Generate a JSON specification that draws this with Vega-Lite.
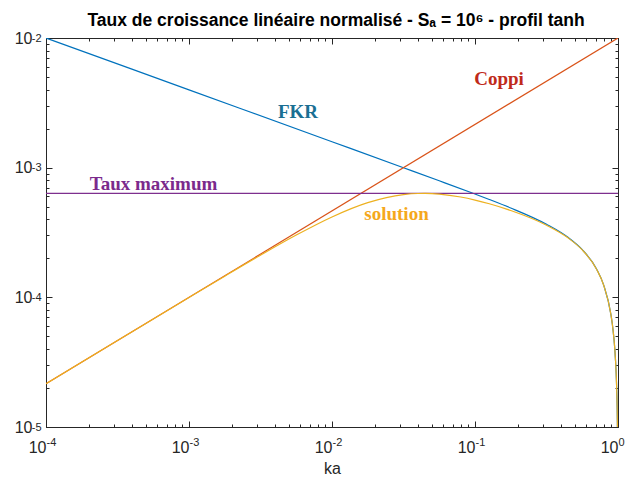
{
  "$schema": "https://vega.github.io/schema/vega-lite/v6.json",
  "width": 572,
  "height": 389,
  "autosize": {"type": "none"},
  "padding": {"left": 46, "top": 38, "right": 15, "bottom": 54},
  "background": "white",
  "config": {
    "view": {"stroke": "#262626", "strokeWidth": 1},
    "axis": {
      "domainColor": "#262626", "tickColor": "#262626", "labelColor": "#262626", "titleColor": "#262626",
      "labelFont": "Liberation Sans", "labelFontSize": 16, "titleFont": "Liberation Sans", "titleFontSize": 16,
      "titleFontWeight": "normal", "grid": false, "labelFlush": false, "labelOverlap": false, "labelBound": false,
      "domainWidth": 1, "tickWidth": 1
    }
  },
  "title": {
    "text": "Taux de croissance linéaire normalisé - Sₐ = 10⁶ - profil tanh",
    "font": "Liberation Sans", "fontSize": 17.5, "fontWeight": "bold", "color": "#000000",
    "anchor": "middle", "frame": "group", "offset": 1, "dx": 4
  },
  "datasets": {
    "courbes": [
      {"ka": 0.0001, "taux": 0.01, "serie": "FKR"},
      {"ka": 0.001, "taux": 0.003981, "serie": "FKR"},
      {"ka": 0.01, "taux": 0.001585, "serie": "FKR"},
      {"ka": 0.031623, "taux": 0.0009992, "serie": "FKR"},
      {"ka": 0.056234, "taux": 0.0007922, "serie": "FKR"},
      {"ka": 0.1, "taux": 0.0006259, "serie": "FKR"},
      {"ka": 0.12589, "taux": 0.0005682, "serie": "FKR"},
      {"ka": 0.17783, "taux": 0.0004886, "serie": "FKR"},
      {"ka": 0.31623, "taux": 0.0003659, "serie": "FKR"},
      {"ka": 0.44668, "taux": 0.0002902, "serie": "FKR"},
      {"ka": 0.56234, "taux": 0.0002332, "serie": "FKR"},
      {"ka": 0.70795, "taux": 0.0001653, "serie": "FKR"},
      {"ka": 0.79433, "taux": 0.0001241, "serie": "FKR"},
      {"ka": 0.89125, "taux": 0.0000742, "serie": "FKR"},
      {"ka": 0.92, "taux": 0.000058, "serie": "FKR"},
      {"ka": 0.95, "taux": 0.0000398, "serie": "FKR"},
      {"ka": 0.97, "taux": 0.00002646, "serie": "FKR"},
      {"ka": 0.98, "taux": 0.00001912, "serie": "FKR"},
      {"ka": 0.99, "taux": 0.00001098, "serie": "FKR"},
      {"ka": 0.995, "taux": 0.00000631, "serie": "FKR"},
      {"ka": 0.998, "taux": 0.00000303, "serie": "FKR"},
      {"ka": 0.0001, "taux": 0.00002154, "serie": "Coppi"},
      {"ka": 1, "taux": 0.01, "serie": "Coppi"},
      {"ka": 0.0001, "taux": 0.000633, "serie": "max"},
      {"ka": 1, "taux": 0.000633, "serie": "max"},
      {"ka": 0.0001, "taux": 0.00002154, "serie": "solution"},
      {"ka": 0.00031623, "taux": 0.00004638, "serie": "solution"},
      {"ka": 0.001, "taux": 0.00009967, "serie": "solution"},
      {"ka": 0.0017783, "taux": 0.0001456, "serie": "solution"},
      {"ka": 0.0031623, "taux": 0.0002113, "serie": "solution"},
      {"ka": 0.0056234, "taux": 0.000302, "serie": "solution"},
      {"ka": 0.01, "taux": 0.0004169, "serie": "solution"},
      {"ka": 0.017783, "taux": 0.0005374, "serie": "solution"},
      {"ka": 0.031623, "taux": 0.0006198, "serie": "solution"},
      {"ka": 0.039811, "taux": 0.000632, "serie": "solution"},
      {"ka": 0.044668, "taux": 0.000633, "serie": "solution"},
      {"ka": 0.050119, "taux": 0.0006308, "serie": "solution"},
      {"ka": 0.056234, "taux": 0.0006255, "serie": "solution"},
      {"ka": 0.079433, "taux": 0.0005938, "serie": "solution"},
      {"ka": 0.1, "taux": 0.0005627, "serie": "solution"},
      {"ka": 0.12589, "taux": 0.0005266, "serie": "solution"},
      {"ka": 0.17783, "taux": 0.0004672, "serie": "solution"},
      {"ka": 0.31623, "taux": 0.0003597, "serie": "solution"},
      {"ka": 0.44668, "taux": 0.0002876, "serie": "solution"},
      {"ka": 0.56234, "taux": 0.000232, "serie": "solution"},
      {"ka": 0.70795, "taux": 0.0001649, "serie": "solution"},
      {"ka": 0.79433, "taux": 0.0001239, "serie": "solution"},
      {"ka": 0.89125, "taux": 0.00007418, "serie": "solution"},
      {"ka": 0.92, "taux": 0.00005798, "serie": "solution"},
      {"ka": 0.95, "taux": 0.00003979, "serie": "solution"},
      {"ka": 0.97, "taux": 0.00002645, "serie": "solution"},
      {"ka": 0.98, "taux": 0.00001911, "serie": "solution"},
      {"ka": 0.99, "taux": 0.00001098, "serie": "solution"},
      {"ka": 0.995, "taux": 0.00000631, "serie": "solution"},
      {"ka": 0.998, "taux": 0.00000303, "serie": "solution"}
    ],
    "etiquettes": [
      {"ka": 0.005784, "taux": 0.002416, "texte": "FKR"},
      {"ka": 0.1472, "taux": 0.00434, "texte": "Coppi"},
      {"ka": 0.0005645, "taux": 0.0006785, "texte": "Taux maximum"},
      {"ka": 0.02825, "taux": 0.0003948, "texte": "solution"}
    ]
  },
  "layer": [
    {
      "data": {"name": "courbes"},
      "transform": [{"filter": "datum.serie == 'FKR'"}],
      "mark": {"type": "line", "color": "#0072BD", "strokeWidth": 1.2, "clip": true, "interpolate": "monotone"},
      "encoding": {
        "x": {"field": "ka", "type": "quantitative", "scale": {"type": "log", "domain": [0.0001, 1], "nice": false},
          "axis": {
            "orient": "bottom",
            "values": [0.0001,0.0002,0.0003,0.0004,0.0005,0.0006,0.0007,0.0008,0.0009,0.001,0.002,0.003,0.004,0.005,0.006,0.007,0.008,0.009,0.01,0.02,0.03,0.04,0.05,0.06,0.07,0.08,0.09,0.1,0.2,0.3,0.4,0.5,0.6,0.7,0.8,0.9,1],
            "tickSize": {"condition": {"test": "abs(log(datum.value)/LN10 - round(log(datum.value)/LN10)) < 0.001", "value": -6}, "value": -3},
            "labelExpr": "abs(log(datum.value)/LN10 - round(log(datum.value)/LN10)) < 0.001 ? '10' : ''",
            "labelFontSize": 16,
            "labelAlign": "right",
            "labelBaseline": "alphabetic",
            "labelDx": 4,
            "labelPadding": 31,
            "title": "ka",
            "titlePadding": 2
          }},
        "y": {"field": "taux", "type": "quantitative", "scale": {"type": "log", "domain": [0.00001, 0.01], "nice": false},
          "axis": {
            "orient": "left",
            "values": [0.00001,0.00002,0.00003,0.00004,0.00005,0.00006,0.00007,0.00008,0.00009,0.0001,0.0002,0.0003,0.0004,0.0005,0.0006,0.0007,0.0008,0.0009,0.001,0.002,0.003,0.004,0.005,0.006,0.007,0.008,0.009,0.01],
            "tickSize": {"condition": {"test": "abs(log(datum.value)/LN10 - round(log(datum.value)/LN10)) < 0.001", "value": -6}, "value": -3},
            "labelExpr": "abs(log(datum.value)/LN10 - round(log(datum.value)/LN10)) < 0.001 ? '10' : ''",
            "labelFontSize": 16,
            "labelAlign": "right",
            "labelBaseline": "middle",
            "labelDy": 1.5,
            "labelPadding": 20,
            "title": null
          }}
      }
    },
    {
      "data": {"name": "courbes"},
      "transform": [{"filter": "datum.serie == 'Coppi'"}],
      "mark": {"type": "line", "color": "#D95319", "strokeWidth": 1.2, "clip": true},
      "encoding": {
        "x": {"field": "ka", "type": "quantitative",
          "axis": {
            "orient": "top",
            "values": [0.0001,0.0002,0.0003,0.0004,0.0005,0.0006,0.0007,0.0008,0.0009,0.001,0.002,0.003,0.004,0.005,0.006,0.007,0.008,0.009,0.01,0.02,0.03,0.04,0.05,0.06,0.07,0.08,0.09,0.1,0.2,0.3,0.4,0.5,0.6,0.7,0.8,0.9,1],
            "tickSize": {"condition": {"test": "abs(log(datum.value)/LN10 - round(log(datum.value)/LN10)) < 0.001", "value": -6}, "value": -3},
            "labels": false,
            "title": null
          }},
        "y": {"field": "taux", "type": "quantitative",
          "axis": {
            "orient": "right",
            "values": [0.00001,0.00002,0.00003,0.00004,0.00005,0.00006,0.00007,0.00008,0.00009,0.0001,0.0002,0.0003,0.0004,0.0005,0.0006,0.0007,0.0008,0.0009,0.001,0.002,0.003,0.004,0.005,0.006,0.007,0.008,0.009,0.01],
            "tickSize": {"condition": {"test": "abs(log(datum.value)/LN10 - round(log(datum.value)/LN10)) < 0.001", "value": -6}, "value": -3},
            "labels": false,
            "title": null
          }}
      }
    },
    {
      "data": {"name": "courbes"},
      "transform": [{"filter": "datum.serie == 'max'"}],
      "mark": {"type": "line", "color": "#7E2F8E", "strokeWidth": 1.2, "clip": true},
      "encoding": {
        "x": {"field": "ka", "type": "quantitative",
          "axis": {
            "orient": "bottom",
            "values": [0.0001, 0.001, 0.01, 0.1, 1],
            "domain": false,
            "ticks": false,
            "tickSize": 0,
            "labelExpr": "'' + round(log(datum.value)/LN10)",
            "labelFontSize": 11,
            "labelAlign": "left",
            "labelBaseline": "alphabetic",
            "labelDx": 4,
            "labelPadding": 18,
            "title": null
          }},
        "y": {"field": "taux", "type": "quantitative",
          "axis": {
            "orient": "left",
            "values": [0.00001, 0.0001, 0.001, 0.01],
            "domain": false,
            "ticks": false,
            "tickSize": 0,
            "labelExpr": "'' + round(log(datum.value)/LN10)",
            "labelFontSize": 11,
            "labelAlign": "right",
            "labelBaseline": "middle",
            "labelDy": -6,
            "labelPadding": 5,
            "title": null
          }}
      }
    },
    {
      "data": {"name": "courbes"},
      "transform": [{"filter": "datum.serie == 'solution'"}],
      "mark": {"type": "line", "color": "#EDB120", "strokeWidth": 1.2, "clip": true, "interpolate": "monotone"},
      "encoding": {
        "x": {"field": "ka", "type": "quantitative", "axis": null},
        "y": {"field": "taux", "type": "quantitative", "axis": null}
      }
    },
    {
      "data": {"name": "etiquettes"},
      "mark": {"type": "text", "font": "Liberation Serif", "fontSize": 19, "fontWeight": "bold", "align": "center", "baseline": "alphabetic"},
      "encoding": {
        "x": {"field": "ka", "type": "quantitative", "axis": null},
        "y": {"field": "taux", "type": "quantitative", "axis": null},
        "text": {"field": "texte"},
        "color": {"field": "texte", "type": "nominal", "legend": null,
          "scale": {"domain": ["FKR", "Coppi", "Taux maximum", "solution"], "range": ["#1A6F93", "#BF2A1A", "#7B2A8C", "#F5A81C"]}}
      }
    }
  ],
  "resolve": {"axis": {"x": "independent", "y": "independent"}}
}
